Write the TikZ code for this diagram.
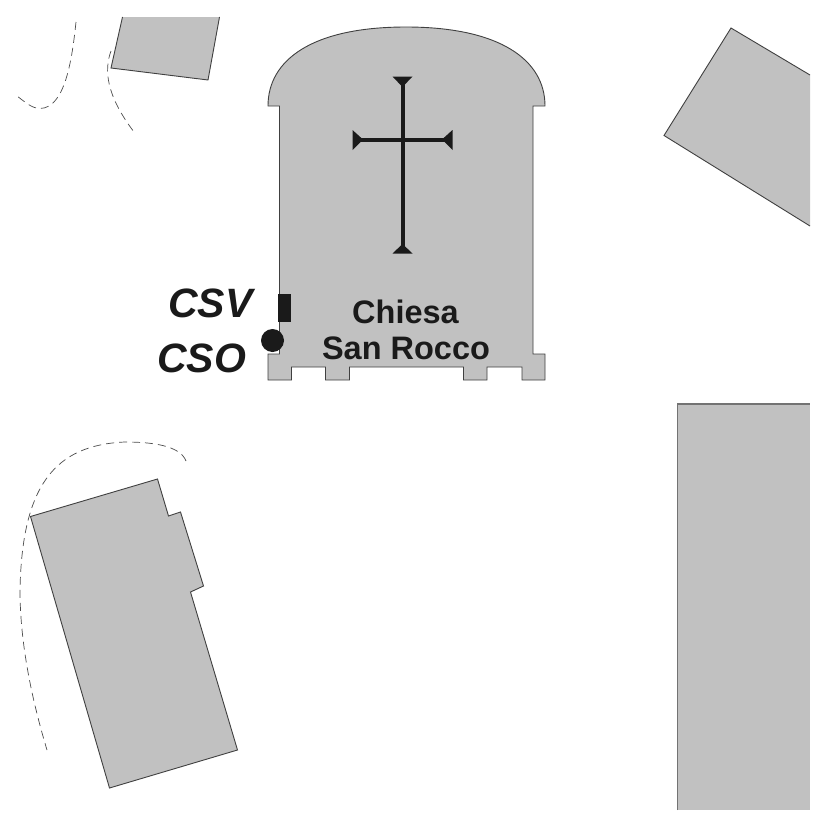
\documentclass[tikz,border=0pt]{standalone}
\usepackage{fontspec}
\setmainfont{Liberation Sans}
\definecolor{edificio}{HTML}{C1C1C1}
\definecolor{inchiostro}{HTML}{1A1A1A}
\tikzset{
	building/.style={fill=edificio,draw=none},
	contorno/.style={draw=black!75,line width=.9pt,line join=miter},
	traccia/.style={draw=black!70,line width=.7pt,dash pattern=on 8pt off 5pt},
	marker/.style={fill=inchiostro,draw=none},
	sigla/.style={text=inchiostro,font=\fontsize{41}{41}\selectfont\bfseries\itshape,inner sep=0pt,anchor=base},
	nome/.style={text=inchiostro,font=\fontsize{32.5}{36}\selectfont\bfseries,inner sep=0pt,anchor=base}
}
\begin{document}
\begin{tikzpicture}[x=1pt,y=-1pt]
	
	\useasboundingbox[fill=white] (0,0) rectangle (827,827);
	
	% chiesa
	\draw[building,contorno] (268,106) .. controls (268,60) and (312,27) .. (406,27)
		.. controls (500,27) and (545,60) .. (545,106)
		-- (533,106) -- (533,354) -- (545,354) -- (545,380) -- (522,380) -- (522,367)
		-- (487,367) -- (487,380) -- (463.5,380) -- (463.5,367) -- (349.5,367) -- (349.5,380)
		-- (325.5,380) -- (325.5,367) -- (291.5,367) -- (291.5,380) -- (268,380) -- (268,354)
		-- (279.5,354) -- (279.5,106) -- cycle;
	
	% croce
	\coordinate (top) at (402.5,78);
	\coordinate (bottom) at (402.5,253);
	\coordinate (left) at (353,139.5);
	\coordinate (right) at (452,139.5);
	\draw[inchiostro,line width=4pt] (top) -- (bottom);
	\draw[inchiostro,line width=4pt] (left) -- (right);
	\fill[inchiostro] (392.5,76.5) -- (412.5,76.5) -- (402.5,87) -- cycle;
	\fill[inchiostro] (392.5,253.5) -- (412.5,253.5) -- (402.5,244) -- cycle;
	\fill[inchiostro] (352.5,130) -- (352.5,150) -- (363,139.5) -- cycle;
	\fill[inchiostro] (452.5,130) -- (452.5,150) -- (442,139.5) -- cycle;
	
	% altri edifici
	\fill[building] (122.5,17) -- (219.5,17) -- (208,80) -- (111,68) -- cycle;
	\draw[contorno] (122.5,17) -- (111,68) -- (208,80) -- (219.5,17);
	\fill[building] (731,28) -- (810,75) -- (810,226) -- (664,135.5) -- cycle;
	\draw[contorno] (810,75) -- (731,28) -- (664,135.5) -- (810,226);
	\fill[building] (677.5,404) rectangle (810,810);
	\draw[contorno,draw=black!55,line width=1.2pt] (677.5,810) -- (677.5,404) -- (810,404);
	\draw[building,contorno] (157.5,479) -- (168.5,516) -- (180.5,512) -- (203.5,586) -- (190.5,592)
		-- (237.5,750) -- (109.5,788) -- (30.5,516.5) -- cycle;
	
	% percorsi
	\draw[traccia] (76,22) .. controls (72,60) and (65,108) .. (40,108.5) .. controls (32,108.5) and (25,102) .. (17,96);
	\draw[traccia] (111,51) .. controls (104,70) and (106,95) .. (134,132);
	\draw[traccia] (186,461) .. controls (180,445) and (150,442) .. (125,442)
		.. controls (55,445) and (22,485) .. (20,590) .. controls (20,650) and (35,710) .. (47,750);
	
	% punti
	\fill[marker] (277.5,293.5) rectangle (290.5,321.5);
	\fill[marker] (272.5,340.5) circle (11.5);
	\node[sigla] (csv) at (210.5,317) {CSV};
	\node[sigla] (cso) at (201.5,372.5) {CSO};
	\node[nome] (chiesa) at (405.5,323) {Chiesa};
	\node[nome] (rocco) at (406,359) {San Rocco};
	
\end{tikzpicture}
\end{document}
